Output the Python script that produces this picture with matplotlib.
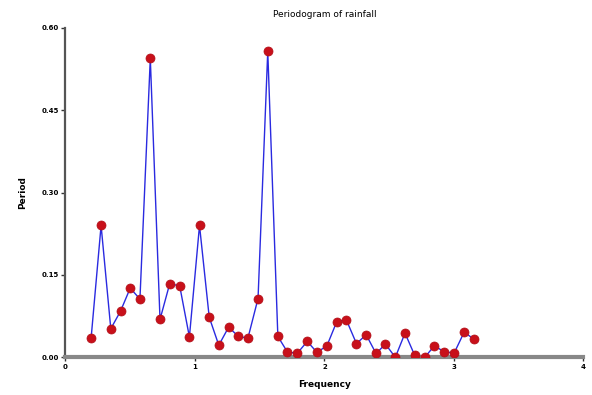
import matplotlib
matplotlib.use("Agg")
import matplotlib.pyplot as plt

# periodogram values
freq = [0.198, 0.275, 0.350, 0.425, 0.500, 0.575, 0.655, 0.730, 0.805, 0.882,
        0.957, 1.035, 1.110, 1.184, 1.260, 1.335, 1.409, 1.487, 1.562, 1.640,
        1.713, 1.789, 1.867, 1.942, 2.019, 2.095, 2.169, 2.247, 2.322, 2.398,
        2.471, 2.547, 2.622, 2.696, 2.774, 2.849, 2.924, 3.002, 3.079, 3.153]
period = [0.035, 0.240, 0.052, 0.084, 0.126, 0.106, 0.544, 0.069, 0.134, 0.130,
          0.037, 0.240, 0.073, 0.022, 0.055, 0.038, 0.035, 0.107, 0.557, 0.038,
          0.010, 0.007, 0.029, 0.009, 0.021, 0.065, 0.068, 0.025, 0.041, 0.007,
          0.024, 0.000, 0.044, 0.004, 0.000, 0.021, 0.010, 0.008, 0.046, 0.033]

xticks = [0, 1, 2, 3, 4]
yticks = [0.00, 0.15, 0.30, 0.45, 0.60]
ytick_labels = ["0.00", "0.15", "0.30", "0.45", "0.60"]

fig = plt.figure(figsize=(5.92, 3.95), dpi=100)
ax = fig.add_axes([0.1106, 0.0954, 0.875, 0.8345])

ax.plot(freq, period, color="#2a2ae0", lw=1.0, zorder=2)
ax.plot(freq, period, "o", color="#c8101a", markersize=6.5, zorder=3,
        markeredgecolor="#b00f18", markeredgewidth=0.5)

ax.set_xlim(0, 4)
ax.set_ylim(0, 0.6)
ax.set_xticks(xticks)
ax.set_xticklabels([str(t) for t in xticks])
ax.set_yticks(yticks)
ax.set_yticklabels(ytick_labels)

for s in ["top", "right"]:
    ax.spines[s].set_visible(False)
ax.spines["left"].set_color("#555555")
ax.spines["left"].set_linewidth(1.6)
ax.spines["bottom"].set_color("#888888")
ax.spines["bottom"].set_linewidth(3)

ax.tick_params(axis="both", length=3, width=1, color="#333333",
               labelsize=5, pad=2)
for lab in ax.get_xticklabels() + ax.get_yticklabels():
    lab.set_fontweight("bold")

ax.set_title("Periodogram of rainfall", fontsize=6.5, pad=8)
ax.set_xlabel("Frequency", fontsize=6.5, fontweight="bold", labelpad=7)
ax.set_ylabel("Period", fontsize=6.5, fontweight="bold", labelpad=10)

fig.savefig("out.png", dpi=100)
